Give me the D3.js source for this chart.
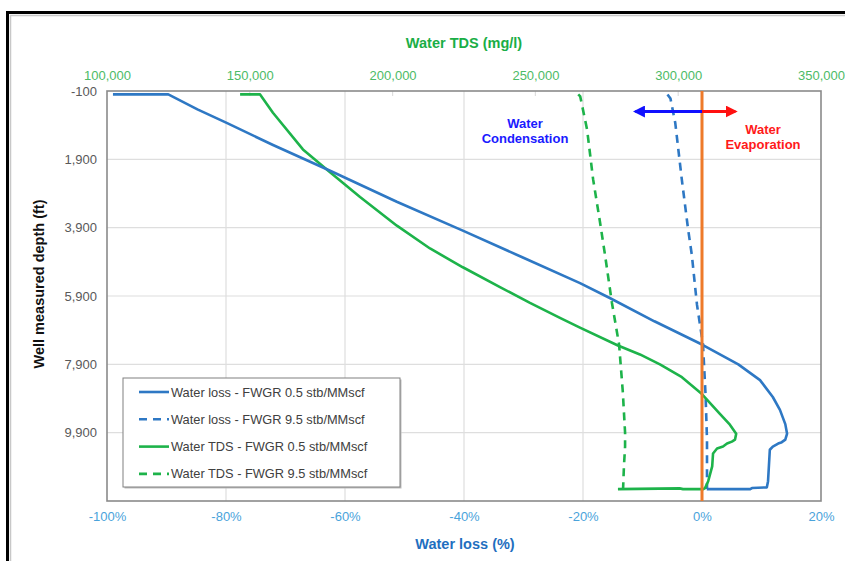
<!DOCTYPE html>
<html>
<head>
<meta charset="utf-8">
<script src="https://cdn.jsdelivr.net/npm/d3@7"></script>
<style>
  html, body { margin: 0; padding: 0; background: #fff; }
  svg { display: block; font-family: "Liberation Sans", Arial, sans-serif; }
</style>
</head>
<body>
<svg id="chart" width="845" height="561"></svg>
<script>
// Axis ticks
const lossTicks = [-100, -80, -60, -40, -20, 0, 20];
const tdsTicks = [100000, 150000, 200000, 250000, 300000, 350000];
const depthTicks = [-100, 1900, 3900, 5900, 7900, 9900, 11900];

// Water loss (%) vs measured depth (ft)
const lossFwgr05 = [
  [-99, 0], [-89.7, 0], [-84.8, 436], [-79.8, 842], [-72.1, 1480], [-62.5, 2233],
  [-51.3, 3140], [-40.2, 3987], [-30.3, 4760], [-20.5, 5523], [-15.5, 5958],
  [-8, 6640], [0, 7320], [6.1, 7900], [9.75, 8363], [11.9, 8856], [13.1, 9233],
  [14.0, 9650], [14.3, 9929], [14.0, 10103], [13.3, 10190], [12.8, 10219],
  [11.9, 10306], [11.4, 10400], [11.1, 11320], [10.9, 11500], [8.4, 11520],
  [8.1, 11552], [0.8, 11552]
];
const lossFwgr95 = [
  [-5.8, 0], [-5.3, 120], [-4.5, 828], [-3.4, 2480], [-2.35, 3929], [-1.7, 4712],
  [-0.84, 6161], [0.17, 7320], [0.6, 8800], [0.84, 10103], [0.84, 11552]
];

// Water TDS (mg/l) vs measured depth (ft)
const tdsFwgr05 = [
  [146600, 0], [153600, 0], [158100, 538], [168600, 1610], [178100, 2277],
  [188600, 3001], [201500, 3842], [213100, 4509], [224600, 5059], [237600, 5638],
  [248100, 6103], [258600, 6538], [265600, 6828], [278900, 7349], [286600, 7610],
  [293600, 7900], [301300, 8277], [308300, 8770], [314600, 9349], [318100, 9668],
  [320300, 9929], [319900, 10103], [318800, 10161], [317100, 10219],
  [315700, 10306], [313600, 10364], [312200, 10509], [311900, 10886],
  [310500, 11320], [309400, 11523], [308800, 11552], [301700, 11552],
  [300500, 11530], [278900, 11552]
];
const tdsFwgr95 = [
  [265000, 0], [265700, 60], [268100, 1030], [270200, 2480], [272600, 3726],
  [274400, 4712], [276800, 6103], [279300, 7320], [280600, 8700], [281400, 9900],
  [281400, 10306], [281000, 10886], [280700, 11552]
];

const legendLabels = [
  "Water loss - FWGR 0.5 stb/MMscf",
  "Water loss - FWGR 9.5 stb/MMscf",
  "Water TDS - FWGR 0.5 stb/MMscf",
  "Water TDS - FWGR 9.5 stb/MMscf"
];

const BLUE = "#2e78c4";
const GREEN = "#1db34a";

const svg = d3.select("#chart");

// Window frame around the chart
svg.append("path")
  .attr("d", "M7.5,561 L7.5,12.5 L845,12.5")
  .attr("fill", "none").attr("stroke", "#000").attr("stroke-width", 3);
svg.append("path")
  .attr("d", "M10.5,561 L10.5,15.5 L845,15.5")
  .attr("fill", "none").attr("stroke", "#c8c8c8").attr("stroke-width", 1.5);

const plotL = 107, plotR = 821, plotT = 91, plotB = 501;
const x = d3.scaleLinear().domain([-100, 20]).range([plotL, plotR]);
const xTds = d3.scaleLinear().domain([100000, 350000]).range([plotL, plotR]);
const y = d3.scaleLinear().domain([-100, 11900]).range([plotT, plotB]);

// Gridlines
const grid = svg.append("g").attr("stroke", "#dedede").attr("stroke-width", 1.2);
grid.selectAll(".vg").data(lossTicks.slice(1, -1)).join("line")
  .attr("x1", d => x(d)).attr("x2", d => x(d))
  .attr("y1", plotT).attr("y2", plotB);
grid.selectAll(".hg").data(depthTicks.slice(1, -1)).join("line")
  .attr("x1", plotL).attr("x2", plotR)
  .attr("y1", d => y(d)).attr("y2", d => y(d));
// short ticks of the TDS scale along the top edge
grid.selectAll(".tt").data(tdsTicks.slice(1, -1)).join("line")
  .attr("x1", d => xTds(d)).attr("x2", d => xTds(d))
  .attr("y1", plotT).attr("y2", plotT + 5);

// Plot border
svg.append("rect")
  .attr("x", plotL).attr("y", plotT)
  .attr("width", plotR - plotL).attr("height", plotB - plotT)
  .attr("fill", "none").attr("stroke", "#8a8a8a").attr("stroke-width", 1.6);

// Axes (labels only; frame drawn above)
const hyphenFmt = f => (d => f(d).replace("\u2212", "-"));
const bottomAxis = svg.append("g")
  .attr("transform", `translate(0,${plotB})`)
  .call(d3.axisBottom(x).tickValues(lossTicks).tickFormat(d => d + "%").tickSize(0).tickPadding(11));
bottomAxis.selectAll("text").attr("fill", "#4aa3db").attr("font-size", 13);

const topAxis = svg.append("g")
  .attr("transform", `translate(0,${plotT})`)
  .call(d3.axisTop(xTds).tickValues(tdsTicks).tickFormat(d3.format(",")).tickSize(0).tickPadding(11));
topAxis.selectAll("text").attr("fill", "#4cbb66").attr("font-size", 13);

const leftAxis = svg.append("g")
  .attr("transform", `translate(${plotL},0)`)
  .call(d3.axisLeft(y).tickValues(depthTicks.slice(0, -1)).tickFormat(hyphenFmt(d3.format(","))).tickSize(0).tickPadding(10));
leftAxis.selectAll("text").attr("fill", "#595959").attr("font-size", 13);

[bottomAxis, topAxis, leftAxis].forEach(a => {
  a.select(".domain").remove();
  a.attr("font-family", null);
});

// Axis titles
svg.append("text").attr("x", 464).attr("y", 48).attr("text-anchor", "middle")
  .attr("font-weight", "bold").attr("font-size", 14.5).attr("fill", "#1aae46")
  .text("Water TDS (mg/l)");
svg.append("text").attr("x", 465).attr("y", 549).attr("text-anchor", "middle")
  .attr("font-weight", "bold").attr("font-size", 14.5).attr("fill", "#1f6fc0")
  .text("Water loss (%)");
svg.append("text").attr("transform", "translate(44,284) rotate(-90)")
  .attr("text-anchor", "middle").attr("font-weight", "bold").attr("font-size", 14.5)
  .attr("fill", "#111").text("Well measured depth (ft)");

// Series
const lossLine = d3.line().x(d => x(d[0])).y(d => y(d[1]));
const tdsLine = d3.line().x(d => xTds(d[0])).y(d => y(d[1]));

const series = [
  { data: tdsFwgr95, gen: tdsLine, color: GREEN, dash: "8,6" },
  { data: lossFwgr95, gen: lossLine, color: BLUE, dash: "8,6" },
  { data: tdsFwgr05, gen: tdsLine, color: GREEN, dash: null },
  { data: lossFwgr05, gen: lossLine, color: BLUE, dash: null }
];
series.forEach(s => {
  svg.append("path").datum(s.data)
    .attr("d", s.gen)
    .attr("fill", "none").attr("stroke", s.color).attr("stroke-width", 2.6)
    .attr("stroke-linejoin", "round")
    .attr("stroke-dasharray", s.dash);
});

// Zero water-loss reference line
svg.append("line")
  .attr("x1", x(0)).attr("x2", x(0)).attr("y1", plotT).attr("y2", plotB)
  .attr("stroke", "#ee7a2a").attr("stroke-width", 3);

// Condensation / evaporation arrows
const defs = svg.append("defs");
[["arrBlue", "#1010ff"], ["arrRed", "#ff1010"]].forEach(([id, c]) => {
  defs.append("marker").attr("id", id)
    .attr("viewBox", "0 0 10 10").attr("refX", 8).attr("refY", 5)
    .attr("markerWidth", 4).attr("markerHeight", 4).attr("orient", "auto")
    .append("path").attr("d", "M0,0 L10,5 L0,10 Z").attr("fill", c);
});
const arrowDepth = 500;
svg.append("line")
  .attr("x1", x(0)).attr("x2", x(-11.2)).attr("y1", y(arrowDepth)).attr("y2", y(arrowDepth))
  .attr("stroke", "#1010ff").attr("stroke-width", 3).attr("marker-end", "url(#arrBlue)");
svg.append("line")
  .attr("x1", x(0)).attr("x2", x(5.6)).attr("y1", y(arrowDepth)).attr("y2", y(arrowDepth))
  .attr("stroke", "#ff1010").attr("stroke-width", 3).attr("marker-end", "url(#arrRed)");

const cond = svg.append("text").attr("text-anchor", "middle")
  .attr("font-weight", "bold").attr("font-size", 13).attr("fill", "#1a1aff");
cond.append("tspan").attr("x", 525).attr("y", 128).text("Water");
cond.append("tspan").attr("x", 525).attr("y", 143).text("Condensation");

const evap = svg.append("text").attr("text-anchor", "middle")
  .attr("font-weight", "bold").attr("font-size", 13).attr("fill", "#ff1a1a");
evap.append("tspan").attr("x", 763).attr("y", 134).text("Water");
evap.append("tspan").attr("x", 763).attr("y", 149).text("Evaporation");

// Legend
const lg = svg.append("g").attr("transform", "translate(123,378)");
lg.append("rect").attr("x", 1.5).attr("y", 1.5).attr("width", 277).attr("height", 109)
  .attr("fill", "#bdbdbd");
lg.append("rect").attr("width", 277).attr("height", 109)
  .attr("fill", "#fff").attr("stroke", "#808080").attr("stroke-width", 1);
const legendStyles = [
  { color: BLUE, dash: null }, { color: BLUE, dash: "8,6" },
  { color: GREEN, dash: null }, { color: GREEN, dash: "8,6" }
];
legendLabels.forEach((t, i) => {
  const yy = 14 + i * 27.3;
  lg.append("line").attr("x1", 16).attr("x2", 46).attr("y1", yy).attr("y2", yy)
    .attr("stroke", legendStyles[i].color).attr("stroke-width", 2.6)
    .attr("stroke-dasharray", legendStyles[i].dash);
  lg.append("text").attr("x", 48).attr("y", yy + 4.5)
    .attr("font-size", 12.8).attr("fill", "#404040").text(t);
});
</script>
</body>
</html>
